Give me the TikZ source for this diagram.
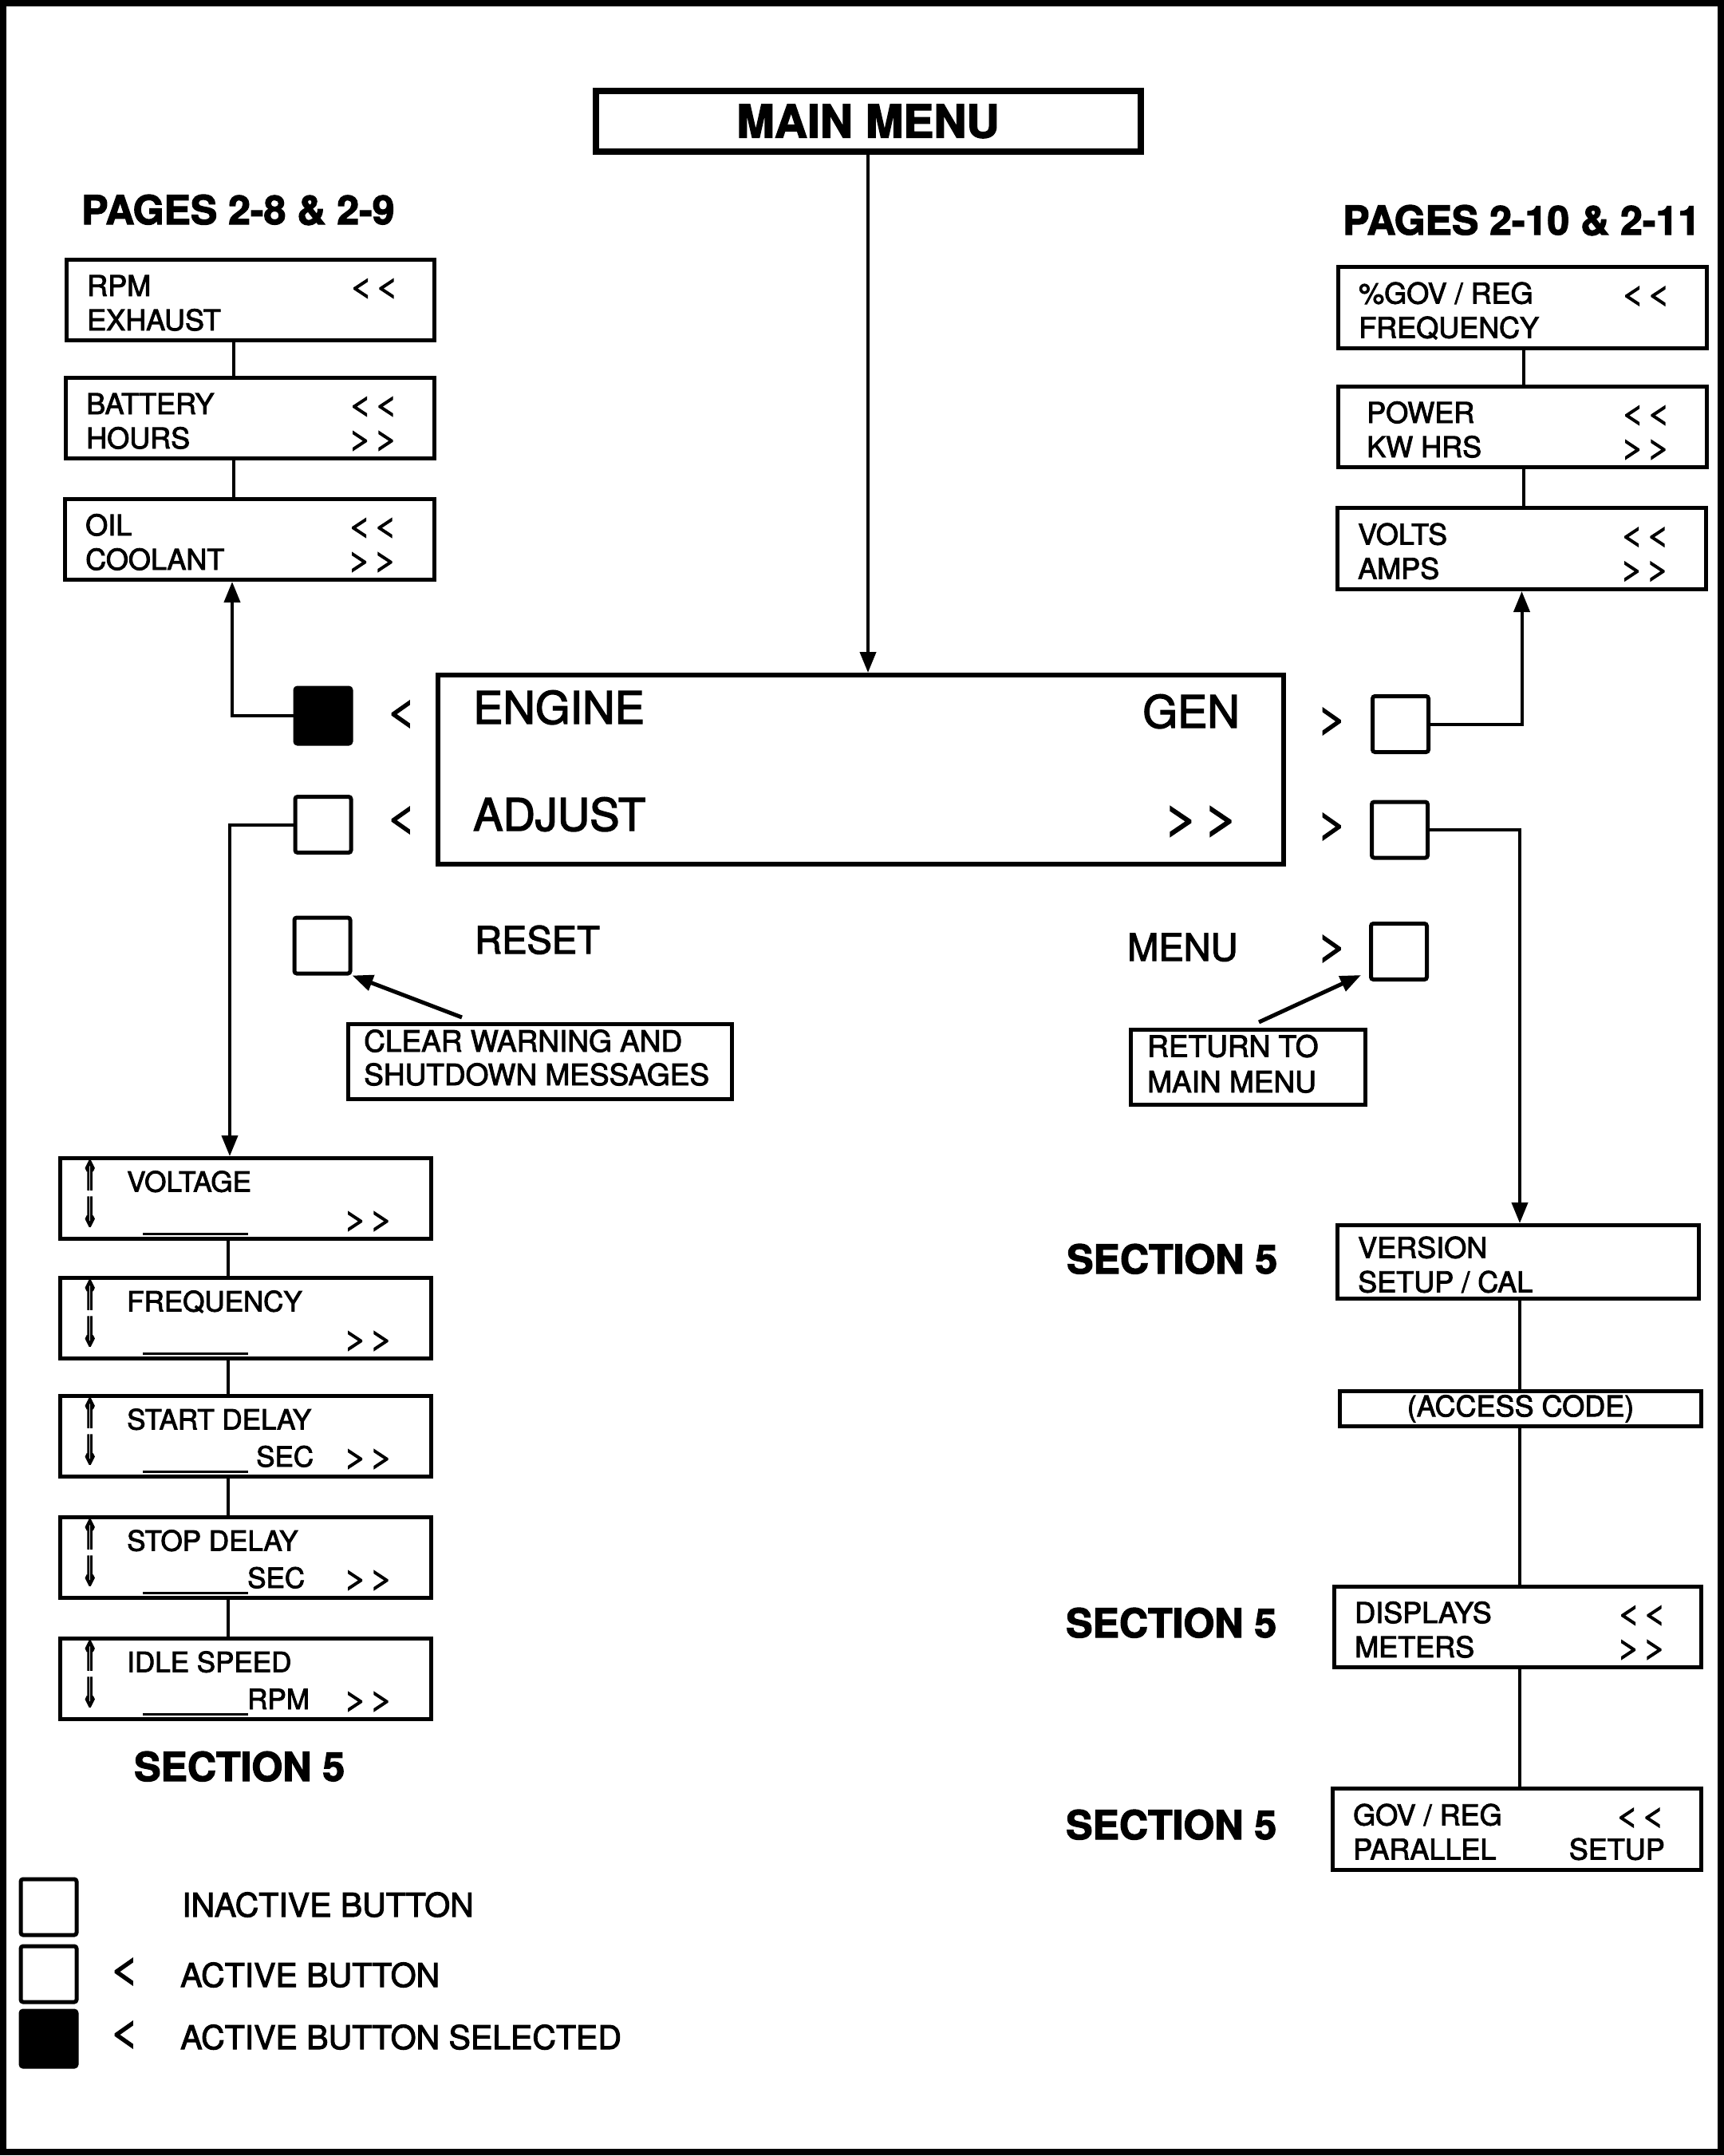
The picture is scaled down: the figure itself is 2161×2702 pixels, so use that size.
\documentclass[tikz,border=0pt]{standalone}
\usepackage{fontspec}
\setmainfont{TeX Gyre Heros}[FakeBold=2.5]
\newfontfamily\dejavu{DejaVu Sans Bold}[FakeBold=3]
\usepackage{graphicx}
\usetikzlibrary{arrows.meta}
\newcommand{\fz}[1]{\fontsize{#1}{#1}\selectfont}
\newcommand{\glt}{\scalebox{1.4}[1.05]{<}}
\newcommand{\ggt}{\scalebox{1.4}[1.05]{>}}
\newcommand{\dlt}{\glt\hspace{3pt}\glt}
\newcommand{\dgt}{\ggt\hspace{3pt}\ggt}
\newcommand{\uparr}{{\dejavu\fz{40}\resizebox*{21pt}{37pt}{⇑}}}
\newcommand{\dnarr}{{\dejavu\fz{40}\resizebox*{21pt}{37pt}{⇓}}}
\tikzset{
  lcdbox/.style={draw, line width=5pt, inner sep=0pt, rectangle},
  btn/.style={draw, line width=5pt, rounded corners=3pt, minimum width=70pt, minimum height=70pt, inner sep=0pt},
  sm/.style={font=\fz{36}, inner sep=0pt},
  adjf/.style={font=\fz{35}, inner sep=0pt},
  note/.style={font=\fz{37}, inner sep=0pt},
  bigf/.style={font=\fz{56}, inner sep=0pt},
  midf/.style={font=\fz{47}, inner sep=0pt},
  head/.style={font=\bfseries\fz{50}, inner sep=0pt},
  legf/.style={font=\fz{41}, inner sep=0pt},
  chev/.style={font=\fz{52}, inner sep=0pt},
  conn/.style={line width=4pt},
  arr/.style={line width=4pt, -{Triangle[length=26pt,width=20pt]}},
  narr/.style={line width=5pt, -{Triangle[length=26pt,width=20pt]}},
}
% name, x1, y1, x2, y2 (outer extents), line1, line2, right1, right2
\newcommand{\lcd}[9]{%
  \node[lcdbox, minimum width={#4-#2-5}, minimum height={#5-#3-5}] (#1) at ({(#2+#4)/2},{(#3+#5)/2}) {};
  \node[sm, anchor=base west] (#1-a) at ({#2+28},{(#3+#5)/2-5}) {#6};
  \node[sm, anchor=base west] (#1-b) at ({#2+28},{(#3+#5)/2+38}) {#7};
  \node[sm, anchor=base east] (#1-c) at ({#2+419},{(#3+#5)/2-5}) {#8};
  \node[sm, anchor=base east] (#1-d) at ({#2+419},{(#3+#5)/2+38}) {#9};
}
% name, top, label, unit, unit x
\newcommand{\adjrow}[5]{%
  \node[lcdbox, minimum width=465, minimum height=101] (#1) at (308,{#2+53}) {};
  \node[inner sep=0pt, anchor=north west] (#1-u) at (102,{#2+5}) {\uparr};
  \node[inner sep=0pt, anchor=north west] (#1-v) at (102,{#2+51}) {\dnarr};
  \node[adjf, anchor=base west] (#1-a) at (159,{#2+44.5}) {#3};
  \node[adjf, anchor=base west] (#1-b) at (#5,{#2+91}) {#4};
  \node[sm, anchor=base east] (#1-c) at (493,{#2+91}) {\dgt};
  \draw[line width=3pt] (179,{#2+97}) -- (311,{#2+97});
}
\begin{document}
\begin{tikzpicture}[x=1pt,y=-1pt]
\useasboundingbox (0,0) rectangle (2161,2702);
\draw[line width=8pt] (4,4) rectangle (2157,2697);

% main menu
\node[draw, line width=8pt, minimum width=683, minimum height=76, inner sep=0pt,
      font=\bfseries\fz{57}] (mainmenu) at (1088,152) {MAIN MENU};

% main display
\node[draw, line width=6pt, minimum width=1060, minimum height=237, inner sep=0pt] (disp) at (1079,964.5) {};
\node[bigf, anchor=base west] (engine) at (593,907) {ENGINE};
\node[bigf, anchor=base west] (adjust) at (593,1041) {ADJUST};
\node[bigf, anchor=base east] (gen) at (1554,912) {GEN};
\node[font=\fz{58}, inner sep=0pt, anchor=base east] (more) at (1553,1044) {\scalebox{1.3}[1]{>}\hspace{6pt}\scalebox{1.3}[1]{>}};

% buttons
\node[btn, fill=black] (engb) at (405,897) {};
\node[btn] (adjb) at (405,1033.5) {};
\node[btn] (rstb) at (404,1185) {};
\node[btn] (genb) at (1755.5,907.5) {};
\node[btn] (adrb) at (1754.5,1040) {};
\node[btn] (menb) at (1753.5,1192.5) {};
\node[chev] (engc) at (503,895) {\scalebox{1.25}[1]{<}};
\node[chev] (adjc) at (503,1028) {\scalebox{1.25}[1]{<}};
\node[chev] (genc) at (1670,904) {\scalebox{1.25}[1]{>}};
\node[chev] (adrc) at (1670,1036) {\scalebox{1.25}[1]{>}};
\node[chev] (menc) at (1670,1189) {\scalebox{1.25}[1]{>}};
\node[midf, anchor=base west] (reset) at (595,1195) {RESET};
\node[midf, anchor=base west] (menu) at (1413,1204) {MENU};

% notes
\node[lcdbox, minimum width=481, minimum height=94] (clr) at (677,1330.5) {};
\node[note, anchor=base west] (clr-a) at (456,1318) {CLEAR WARNING AND};
\node[note, anchor=base west] (clr-b) at (456,1360) {SHUTDOWN MESSAGES};
\node[lcdbox, minimum width=294, minimum height=94] (ret) at (1564.5,1337) {};
\node[note, anchor=base west] (ret-a) at (1438,1324.5) {RETURN TO};
\node[note, anchor=base west] (ret-b) at (1438,1369) {MAIN MENU};
\coordinate (clrtail) at (579,1275);
\coordinate (rettail) at (1578,1281);
\coordinate (rettip) at (1706,1222);
\draw[narr] (clrtail) -- (rstb.south east);
\draw[narr] (rettail) -- (rettip);

% headings
\node[head, anchor=base west] (pgl) at (102,281) {PAGES 2-8 \& 2-9};
\node[head, anchor=base west] (pgr) at (1683,294) {PAGES 2-10 \& 2-11};
\node[head, anchor=base west] (secl) at (168,2232) {SECTION 5};
\node[head, anchor=base west] (sec1) at (1337,1596) {SECTION 5};
\node[head, anchor=base west] (sec2) at (1336,2052) {SECTION 5};
\node[head, anchor=base west] (sec3) at (1336,2305) {SECTION 5};

% engine pages
\lcd{rpm}{81}{323}{547}{429}{RPM}{EXHAUST}{\dlt}{}
\lcd{bat}{80}{471}{547}{577}{BATTERY}{HOURS}{\dlt}{\dgt}
\lcd{oil}{79}{623}{547}{729}{OIL}{COOLANT}{\dlt}{\dgt}
% gen pages
\lcd{gov}{1675}{332}{2142}{439}{\%GOV / REG}{FREQUENCY}{\dlt}{}
\lcd{pow}{1675}{482}{2142}{588}{\hspace*{10pt}POWER}{\hspace*{10pt}KW HRS}{\dlt}{\dgt}
\lcd{vlt}{1674}{634}{2141}{741}{VOLTS}{AMPS}{\dlt}{\dgt}
% setup pages
\lcd{ver}{1674}{1533}{2132}{1630}{VERSION}{SETUP / CAL}{}{}
\node[lcdbox, sm, minimum width=453, minimum height=44] (acc) at (1906,1765.5) {(ACCESS CODE)};
\lcd{dsp}{1670}{1986}{2135}{2092}{DISPLAYS}{METERS}{\dlt}{\dgt}
\lcd{gpr}{1668}{2239}{2135}{2346}{GOV / REG}{PARALLEL}{\dlt}{SETUP}

% adjust pages
\adjrow{volt}{1449}{VOLTAGE}{}{321}
\adjrow{freq}{1599}{FREQUENCY}{}{321}
\adjrow{strt}{1747}{START DELAY}{SEC}{321}
\adjrow{stop}{1899}{STOP DELAY}{SEC}{310}
\adjrow{idle}{2051}{IDLE SPEED}{RPM}{310}

% connectors
\draw[arr] (mainmenu.south) -- (mainmenu.south |- disp.north);
\draw[arr] (engb.west) -| ([xshift=-22pt]oil.south);
\draw[arr] (adjb.west) -| ([xshift=-20pt]volt.north);
\draw[arr] (genb.east) -| (vlt.south);
\draw[arr] (adrb.east) -| ([xshift=2pt]ver.north);
\draw[conn] ([xshift=-21pt]rpm.south) -- ([xshift=-21pt]rpm.south |- bat.north);
\draw[conn] ([xshift=-21pt]bat.south) -- ([xshift=-21pt]bat.south |- oil.north);
\draw[conn] ([xshift=1pt]gov.south) -- ([xshift=1pt]gov.south |- pow.north);
\draw[conn] ([xshift=1pt]pow.south) -- ([xshift=1pt]pow.south |- vlt.north);
\draw[conn] ([xshift=-22pt]volt.south) -- ([xshift=-22pt]volt.south |- freq.north);
\draw[conn] ([xshift=-22pt]freq.south) -- ([xshift=-22pt]freq.south |- strt.north);
\draw[conn] ([xshift=-22pt]strt.south) -- ([xshift=-22pt]strt.south |- stop.north);
\draw[conn] ([xshift=-22pt]stop.south) -- ([xshift=-22pt]stop.south |- idle.north);
\draw[conn] ([xshift=2pt]ver.south) -- ([xshift=2pt]ver.south |- acc.north);
\draw[conn] ([xshift=2pt]ver.south |- acc.south) -- ([xshift=2pt]ver.south |- dsp.north);
\draw[conn] ([xshift=2pt]ver.south |- dsp.south) -- ([xshift=2pt]ver.south |- gpr.north);

% legend
\node[btn] (lg1) at (61,2390) {};
\node[btn] (lg2) at (61,2474) {};
\node[btn, fill=black] (lg3) at (61,2555) {};
\node[chev] (lg2c) at (156,2471) {\scalebox{1.25}[1]{<}};
\node[chev] (lg3c) at (156,2550) {\scalebox{1.25}[1]{<}};
\node[legf, anchor=base west] (lg1t) at (228,2402) {INACTIVE BUTTON};
\node[legf, anchor=base west] (lg2t) at (226,2490) {ACTIVE BUTTON};
\node[legf, anchor=base west] (lg3t) at (226,2568) {ACTIVE BUTTON SELECTED};
\end{tikzpicture}
\end{document}
